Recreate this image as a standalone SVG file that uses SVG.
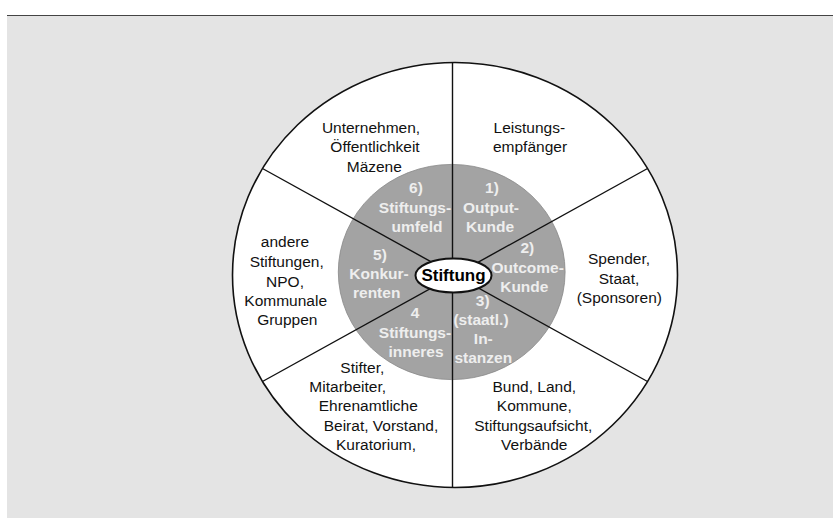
<svg xmlns="http://www.w3.org/2000/svg" width="833" height="518" viewBox="0 0 833 518">
<style>
.t{font-family:"Liberation Sans",Arial,sans-serif;font-size:15.5px;fill:#111;text-anchor:middle}
.w{font-family:"Liberation Sans",Arial,sans-serif;font-size:15.5px;font-weight:bold;fill:#eeeeee;text-anchor:middle}
.ln{stroke:#111;stroke-width:1.4;fill:none}
</style>
<rect x="0" y="0" width="833" height="518" fill="#ffffff"/>
<rect x="7" y="16" width="826" height="502" fill="#e4e4e4"/>
<line x1="7" y1="15.5" x2="833" y2="15.5" stroke="#444" stroke-width="1.2"/>
<g id="outer">
<ellipse cx="455" cy="275" rx="222.5" ry="212.5" fill="#ffffff" stroke="#111" stroke-width="1.6"/>
</g>
<g id="inner">
<ellipse cx="451.7" cy="272" rx="113.4" ry="107.6" fill="#a3a3a3" stroke="#888" stroke-width="0.8"/>
</g>
<g id="connectors">
<line class="ln" x1="452.5" y1="62.7" x2="452.5" y2="487.3"/>
<line class="ln" x1="262.5" y1="168.5" x2="647.5" y2="381.5"/>
<line class="ln" x1="262.5" y1="381.5" x2="647.5" y2="168.5"/>
</g>
<g id="center">
<ellipse cx="453.5" cy="275.5" rx="38" ry="17" fill="#ffffff" stroke="#111" stroke-width="2"/>
<text x="453.5" y="281" font-family="'Liberation Sans',Arial,sans-serif" font-size="17" font-weight="bold" fill="#000" text-anchor="middle">Stiftung</text>
</g>
<g id="n6">
<text class="w" x="416" y="193.3">6)</text>
<text class="w" x="415" y="212.7">Stiftungs-</text>
<text class="w" x="417" y="232.3">umfeld</text>
</g>
<g id="n1">
<text class="w" x="492" y="193.3">1)</text>
<text class="w" x="491" y="212.7">Output-</text>
<text class="w" x="490" y="232.3">Kunde</text>
</g>
<g id="n5">
<text class="w" x="380" y="260">5)</text>
<text class="w" x="379" y="279.3">Konkur-</text>
<text class="w" x="376.7" y="298.3">renten</text>
</g>
<g id="n2">
<text class="w" x="527.3" y="253.3">2)</text>
<text class="w" x="527.7" y="272.7">Outcome-</text>
<text class="w" x="524.3" y="292.3">Kunde</text>
</g>
<g id="n3">
<text class="w" x="482.7" y="305.7">3)</text>
<text class="w" x="481" y="325">(staatl.)</text>
<text class="w" x="483.3" y="344">In-</text>
<text class="w" x="483.3" y="362.7">stanzen</text>
</g>
<g id="n4">
<text class="w" x="415" y="318.3">4</text>
<text class="w" x="415" y="337.7">Stiftungs-</text>
<text class="w" x="416" y="356.7">inneres</text>
</g>
<g id="o6">
<text class="t" x="371" y="132.7">Unternehmen,</text>
<text class="t" x="375" y="152">Öffentlichkeit</text>
<text class="t" x="374.3" y="171.7">Mäzene</text>
</g>
<g id="o1">
<text class="t" x="529.3" y="132.7">Leistungs-</text>
<text class="t" x="530" y="152">empfänger</text>
</g>
<g id="o5">
<text class="t" x="285" y="246.7">andere</text>
<text class="t" x="286.7" y="267.3">Stiftungen,</text>
<text class="t" x="285" y="286.7">NPO,</text>
<text class="t" x="285.7" y="306">Kommunale</text>
<text class="t" x="287.3" y="325">Gruppen</text>
</g>
<g id="o2">
<text class="t" x="619" y="264.3">Spender,</text>
<text class="t" x="619" y="284">Staat,</text>
<text class="t" x="619.3" y="302.7">(Sponsoren)</text>
</g>
<g id="o4">
<text class="t" x="362.3" y="372.7">Stifter,</text>
<text class="t" x="347.7" y="391.7">Mitarbeiter,</text>
<text class="t" x="368.3" y="411">Ehrenamtliche</text>
<text class="t" x="381" y="430.7">Beirat, Vorstand,</text>
<text class="t" x="376" y="450">Kuratorium,</text>
</g>
<g id="o3">
<text class="t" x="534.3" y="391.7">Bund, Land,</text>
<text class="t" x="534.3" y="411">Kommune,</text>
<text class="t" x="533.3" y="430.7">Stiftungsaufsicht,</text>
<text class="t" x="534.3" y="450">Verbände</text>
</g>
</svg>
